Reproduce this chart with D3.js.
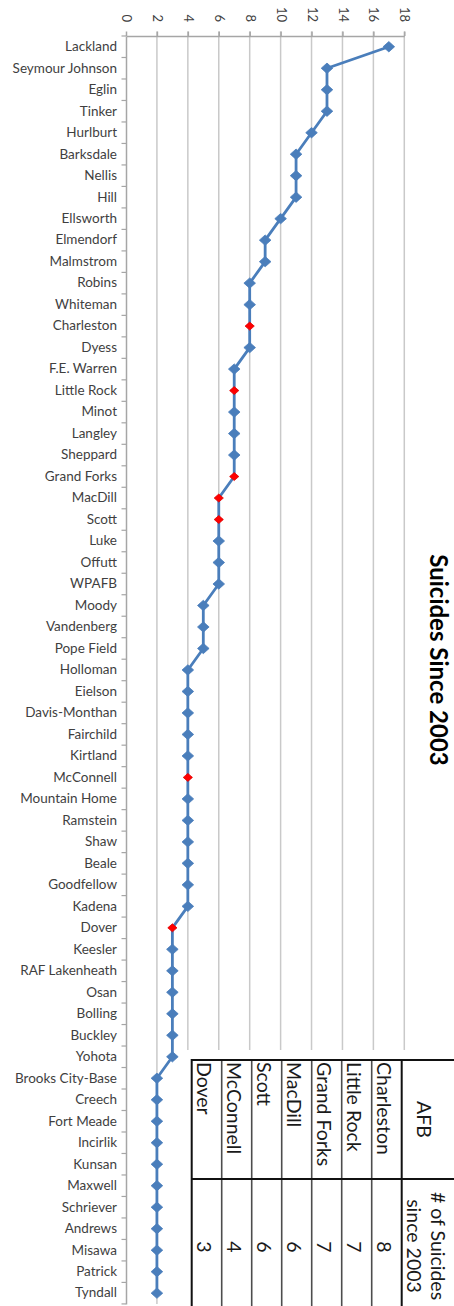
<!DOCTYPE html>
<html>
<head>
<meta charset="utf-8">
<script src="https://cdn.jsdelivr.net/npm/d3@7/dist/d3.min.js"></script>
<style>
  html, body { margin: 0; padding: 0; background: #ffffff; }
  svg { display: block; }
</style>
</head>
<body>
<script>
// Air Force bases, ordered from most to fewest suicides
const categories = [
  "Lackland", "Seymour Johnson", "Eglin", "Tinker", "Hurlburt", "Barksdale",
  "Nellis", "Hill", "Ellsworth", "Elmendorf", "Malmstrom", "Robins", "Whiteman",
  "Charleston", "Dyess", "F.E. Warren", "Little Rock", "Minot", "Langley",
  "Sheppard", "Grand Forks", "MacDill", "Scott", "Luke", "Offutt", "WPAFB",
  "Moody", "Vandenberg", "Pope Field", "Holloman", "Eielson", "Davis-Monthan",
  "Fairchild", "Kirtland", "McConnell", "Mountain Home", "Ramstein", "Shaw",
  "Beale", "Goodfellow", "Kadena", "Dover", "Keesler", "RAF Lakenheath", "Osan",
  "Bolling", "Buckley", "Yohota", "Brooks City-Base", "Creech", "Fort Meade",
  "Incirlik", "Kunsan", "Maxwell", "Schriever", "Andrews", "Misawa", "Patrick",
  "Tyndall"
];

// Number of suicides since 2003 at each base
const values = [
  17, 13, 13, 13, 12, 11, 11, 11, 10, 9, 9, 8, 8,
  8, 8, 7, 7, 7, 7, 7, 7, 6, 6, 6, 6, 6,
  5, 5, 5, 4, 4, 4, 4, 4, 4, 4, 4, 4, 4, 4, 4,
  3, 3, 3, 3, 3, 3, 3,
  2, 2, 2, 2, 2, 2, 2, 2, 2, 2, 2
];

// Bases called out in red and listed in the side table
const highlighted = ["Charleston", "Little Rock", "Grand Forks", "MacDill", "Scott", "McConnell", "Dover"];

const valueTicks = [0, 2, 4, 6, 8, 10, 12, 14, 16, 18];

const titleText = "Suicides Since 2003";
const tableHeaderBase = "AFB";
const tableHeaderCount = ["# of Suicides", "since 2003"];

// ---- layout ----
const W = 454, H = 1306;
const plot = { left: 126, right: 404.3, top: 36, step: 21.49 };
const plotBottom = plot.top + plot.step * categories.length;

const svg = d3.select("body").append("svg")
  .attr("width", W).attr("height", H);

const x = d3.scaleLinear().domain([0, 18]).range([plot.left, plot.right]);
const y = d3.scaleBand().domain(categories).range([plot.top, plotBottom]).padding(0);
const yc = c => y(c) + y.bandwidth() / 2;

const labelFont = "Lato, 'Open Sans', 'DejaVu Sans', sans-serif";
const gridColor = "#c9c9c9";
const axisColor = "#a6a6a6";
const textColor = "#3f3f3f";

// vertical gridlines for each value tick
svg.append("g")
  .selectAll("line")
  .data(valueTicks.filter(v => v > 0))
  .join("line")
  .attr("x1", d => x(d)).attr("x2", d => x(d))
  .attr("y1", plot.top - 4.5).attr("y2", plotBottom)
  .attr("stroke", gridColor).attr("stroke-width", 1.5);

// value axis along the top, labels turned a quarter turn
const topAxis = svg.append("g")
  .attr("transform", `translate(0,${plot.top})`)
  .call(d3.axisTop(x).tickValues(valueTicks).tickSize(4.5).tickSizeOuter(0));
topAxis.select(".domain").attr("stroke", axisColor).attr("stroke-width", 1.5);
topAxis.selectAll(".tick line").attr("stroke", axisColor).attr("stroke-width", 1.5);
topAxis.selectAll(".tick text")
  .attr("font-family", labelFont)
  .attr("font-size", 13)
  .attr("fill", textColor)
  .attr("text-anchor", "end")
  .attr("transform", "translate(0,-14) rotate(90)")
  .attr("x", 0).attr("y", 0).attr("dy", "0.34em");

// category axis along the left
const leftAxis = svg.append("g")
  .attr("transform", `translate(${plot.left},0)`)
  .call(d3.axisLeft(y).tickSize(0).tickPadding(9).tickSizeOuter(0));
leftAxis.select(".domain").attr("stroke", axisColor).attr("stroke-width", 1.5);
leftAxis.selectAll(".tick text")
  .attr("font-family", labelFont)
  .attr("font-size", 13.5)
  .attr("fill", textColor);

// tick marks between categories
svg.append("g")
  .selectAll("line")
  .data(categories.concat([null]))
  .join("line")
  .attr("x1", plot.left - 4.5).attr("x2", plot.left)
  .attr("y1", d => d === null ? plotBottom : y(d))
  .attr("y2", d => d === null ? plotBottom : y(d))
  .attr("stroke", axisColor).attr("stroke-width", 1.2);

// the series line
const pts = categories.map((c, i) => ({ name: c, value: values[i] }));
svg.append("path")
  .datum(pts)
  .attr("fill", "none")
  .attr("stroke", "#4a7ebb")
  .attr("stroke-width", 2.8)
  .attr("stroke-linejoin", "round")
  .attr("d", d3.line().x(d => x(d.value)).y(d => yc(d.name)));

// diamond markers
const diamond = (hw, hh) => `M0,${-hh}L${hw},0L0,${hh}L${-hw},0Z`;
svg.append("g")
  .selectAll("path")
  .data(pts)
  .join("path")
  .attr("transform", d => `translate(${x(d.value)},${yc(d.name)})`)
  .attr("d", d => highlighted.includes(d.name) ? diamond(4.6, 4) : diamond(5.8, 5.2))
  .attr("fill", d => highlighted.includes(d.name) ? "#ff0000" : "#4a7ebb")
  .attr("stroke", d => highlighted.includes(d.name) ? "#e00000" : "#4a7ebb")
  .attr("stroke-width", 0.8);

// chart title, reading downward
svg.append("text")
  .attr("transform", `translate(430,660) rotate(90)`)
  .attr("text-anchor", "middle")
  .attr("font-family", labelFont)
  .attr("font-weight", "bold")
  .attr("font-size", 24)
  .attr("fill", "#000")
  .text(titleText);

// ---- side table of highlighted bases ----
const tbl = { left: 191.7, top: 1060, split: 1179, headerLeft: 401.7, right: 470, bottom: 1320 };
const tableCounts = highlighted.map(b => values[categories.indexOf(b)]);

// white backing over the gridlines
svg.append("rect")
  .attr("x", 185).attr("y", 1050)
  .attr("width", W - 185).attr("height", H - 1050)
  .attr("fill", "#ffffff");

const col = d3.scaleBand().domain(highlighted).range([tbl.headerLeft, tbl.left]);
const tg = svg.append("g");

// inner column separators
tg.selectAll("line.sep")
  .data(highlighted.slice(0, -1))
  .join("line")
  .attr("class", "sep")
  .attr("x1", d => col(d)).attr("x2", d => col(d))
  .attr("y1", tbl.top).attr("y2", tbl.bottom)
  .attr("stroke", "#4d4d4d").attr("stroke-width", 1.6);

// outer frame and header separators
tg.append("rect")
  .attr("x", tbl.left).attr("y", tbl.top)
  .attr("width", tbl.right - tbl.left).attr("height", tbl.bottom - tbl.top)
  .attr("fill", "none").attr("stroke", "#111").attr("stroke-width", 2);
tg.append("line")
  .attr("x1", tbl.headerLeft).attr("x2", tbl.headerLeft)
  .attr("y1", tbl.top).attr("y2", tbl.bottom)
  .attr("stroke", "#111").attr("stroke-width", 2);
tg.append("line")
  .attr("x1", tbl.left).attr("x2", tbl.right)
  .attr("y1", tbl.split).attr("y2", tbl.split)
  .attr("stroke", "#111").attr("stroke-width", 2);

const tableFont = { family: labelFont, size: 19.5, color: "#1a1a1a" };

// base names
tg.selectAll("text.name")
  .data(highlighted)
  .join("text")
  .attr("class", "name")
  .attr("transform", d => `translate(${col(d) + 5},${tbl.top + 2}) rotate(90)`)
  .attr("text-anchor", "start")
  .attr("font-family", tableFont.family)
  .attr("font-size", tableFont.size)
  .attr("fill", tableFont.color)
  .text(d => d);

// counts
tg.selectAll("text.count")
  .data(highlighted.map((b, i) => ({ base: b, count: tableCounts[i] })))
  .join("text")
  .attr("class", "count")
  .attr("transform", d => `translate(${col(d.base) + 5},1247) rotate(90)`)
  .attr("text-anchor", "middle")
  .attr("font-family", tableFont.family)
  .attr("font-size", tableFont.size)
  .attr("fill", tableFont.color)
  .text(d => d.count);

// header cells
tg.append("text")
  .attr("transform", `translate(417,${(tbl.top + tbl.split) / 2}) rotate(90)`)
  .attr("text-anchor", "middle")
  .attr("font-family", tableFont.family)
  .attr("font-size", tableFont.size)
  .attr("fill", tableFont.color)
  .text(tableHeaderBase);
tg.selectAll("text.hdr")
  .data(tableHeaderCount)
  .join("text")
  .attr("class", "hdr")
  .attr("transform", (d, i) => `translate(${430.5 - i * 24},1246) rotate(90)`)
  .attr("text-anchor", "middle")
  .attr("font-family", tableFont.family)
  .attr("font-size", tableFont.size)
  .attr("fill", tableFont.color)
  .text(d => d);
</script>
</body>
</html>
